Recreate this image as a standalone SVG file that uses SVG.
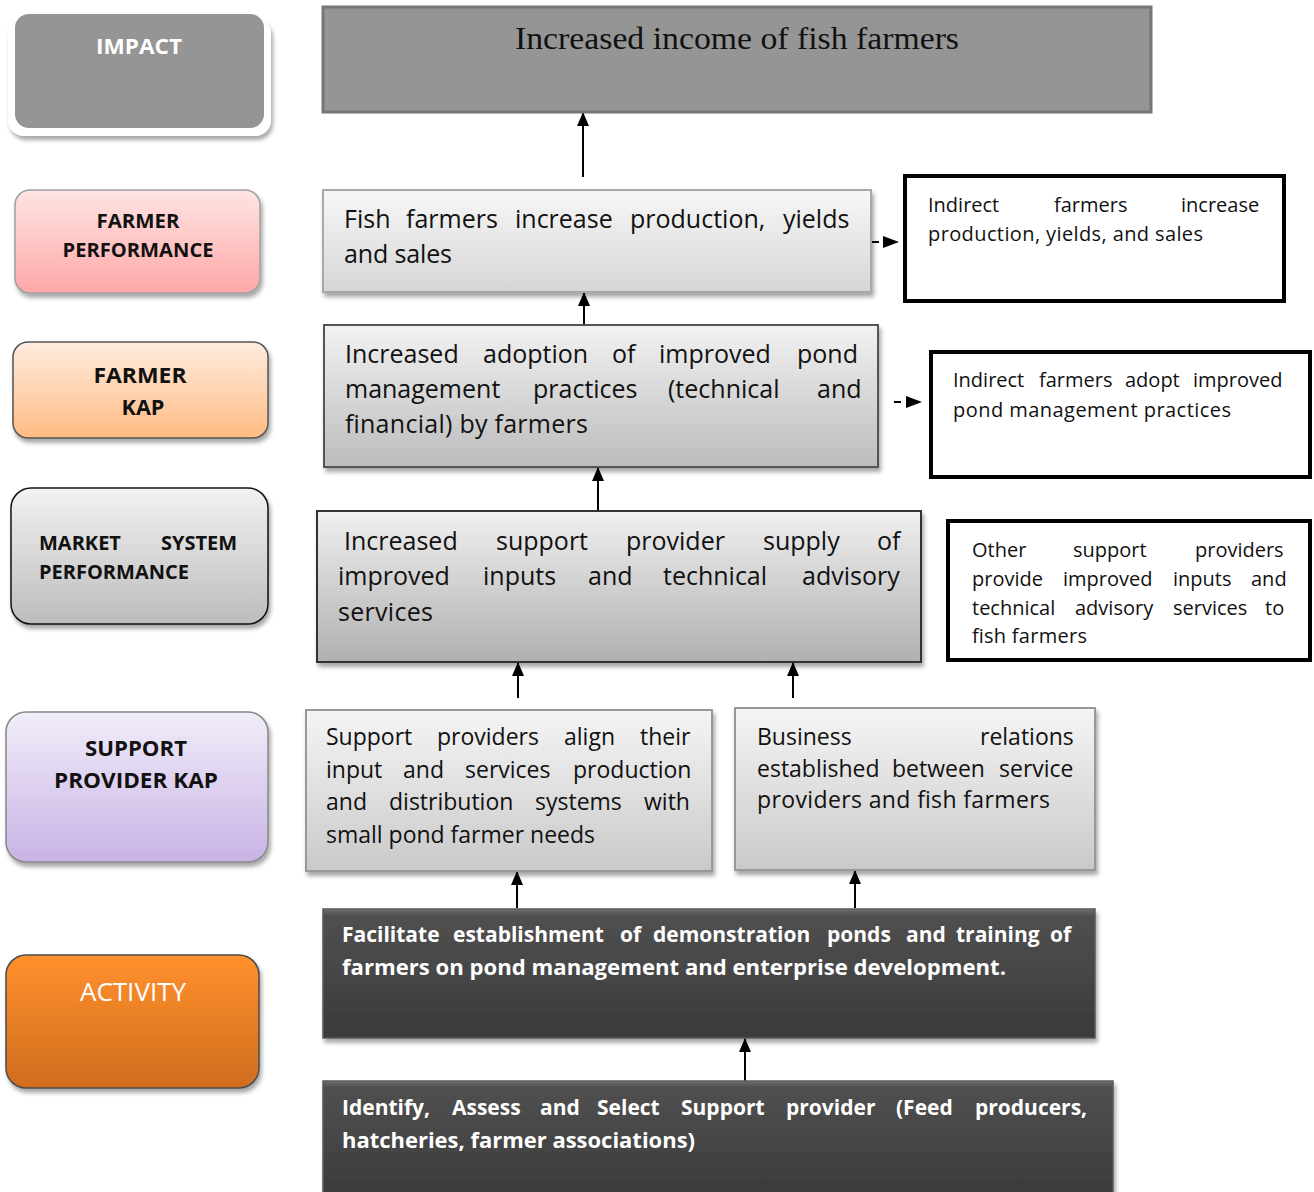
<svg xmlns="http://www.w3.org/2000/svg" width="1314" height="1192" viewBox="0 0 1314 1192">
<style>
.t{font-family:'Open Sans','Noto Sans',sans-serif;fill:#111}
.m{font-size:25px}
.s{font-size:23px}
.r{font-size:20px}
.a{font-size:21px;font-weight:bold;fill:#fff}
.lb{font-family:'Open Sans','Noto Sans',sans-serif;font-weight:bold;fill:#111;text-anchor:middle}
.ind{fill:#fff;stroke:#000;stroke-width:4}
.cn{stroke:#000;stroke-width:2;fill:none}
</style>
<defs>
<filter id="sh" x="-10%" y="-10%" width="130%" height="140%">
<feDropShadow dx="2" dy="4" stdDeviation="2" flood-color="#000" flood-opacity="0.35"/>
</filter>
<linearGradient id="gPink" x1="0" y1="0" x2="0" y2="1"><stop offset="0" stop-color="#ffe4e4"/><stop offset="1" stop-color="#ffa7a7"/></linearGradient>
<linearGradient id="gPeach" x1="0" y1="0" x2="0" y2="1"><stop offset="0" stop-color="#ffecdf"/><stop offset="1" stop-color="#ffbb82"/></linearGradient>
<linearGradient id="gGray" x1="0" y1="0" x2="0" y2="1"><stop offset="0" stop-color="#f2f2f2"/><stop offset="1" stop-color="#bcbcbc"/></linearGradient>
<linearGradient id="gLav" x1="0" y1="0" x2="0" y2="1"><stop offset="0" stop-color="#f1edf9"/><stop offset="1" stop-color="#c8b3e5"/></linearGradient>
<linearGradient id="gOr" x1="0" y1="0" x2="0" y2="1"><stop offset="0" stop-color="#ff912d"/><stop offset="1" stop-color="#d06c1f"/></linearGradient>
<linearGradient id="gB1" x1="0" y1="0" x2="0" y2="1"><stop offset="0" stop-color="#f7f7f7"/><stop offset="1" stop-color="#d6d6d6"/></linearGradient>
<linearGradient id="gB2" x1="0" y1="0" x2="0" y2="1"><stop offset="0" stop-color="#f2f2f2"/><stop offset="1" stop-color="#bcbcbc"/></linearGradient>
<linearGradient id="gB3" x1="0" y1="0" x2="0" y2="1"><stop offset="0" stop-color="#f0f0f0"/><stop offset="1" stop-color="#b0b0b0"/></linearGradient>
<linearGradient id="gB4" x1="0" y1="0" x2="0" y2="1"><stop offset="0" stop-color="#f5f5f5"/><stop offset="1" stop-color="#c9c9c9"/></linearGradient>
<linearGradient id="gDk" x1="0" y1="0" x2="0" y2="1"><stop offset="0" stop-color="#707070"/><stop offset="0.05" stop-color="#505050"/><stop offset="1" stop-color="#3a3a3a"/></linearGradient>
<marker id="ah" markerUnits="userSpaceOnUse" markerWidth="16" markerHeight="14" refX="0" refY="0" orient="auto" overflow="visible">
<path d="M0,0 L-14,-6 L-14,6 Z" fill="#000"/>
</marker>
</defs>

<!-- left level labels -->
<g id="lbl-impact">
<rect x="8" y="18" width="263" height="118" rx="16" fill="#fff" filter="url(#sh)"/>
<rect x="15" y="14" width="249" height="114" rx="14" fill="#959595"/>
<text class="lb" x="139" y="54" font-size="21" style="fill:#fff" textLength="86" lengthAdjust="spacingAndGlyphs">IMPACT</text>
</g>
<g id="lbl-farmer-performance">
<rect x="15" y="190" width="245" height="103" rx="15" fill="url(#gPink)" stroke="#a0a0a0" stroke-width="1.5" filter="url(#sh)"/>
<text class="lb" x="138" y="228" font-size="20" textLength="83" lengthAdjust="spacingAndGlyphs">FARMER</text>
<text class="lb" x="138" y="257" font-size="20" textLength="151" lengthAdjust="spacingAndGlyphs">PERFORMANCE</text>
</g>
<g id="lbl-farmer-kap">
<rect x="13" y="342" width="255" height="96" rx="15" fill="url(#gPeach)" stroke="#555" stroke-width="1.5" filter="url(#sh)"/>
<text class="lb" x="140" y="383" font-size="22" textLength="93" lengthAdjust="spacingAndGlyphs">FARMER</text>
<text class="lb" x="143" y="415" font-size="22" textLength="43" lengthAdjust="spacingAndGlyphs">KAP</text>
</g>
<g id="lbl-market-system">
<rect x="11" y="488" width="257" height="136" rx="20" fill="url(#gGray)" stroke="#111" stroke-width="1.5" filter="url(#sh)"/>
<text class="lb" font-size="20" style="text-anchor:start"><tspan x="39" y="550">MARKET</tspan><tspan x="161" y="550">SYSTEM</tspan><tspan x="39" y="579">PERFORMANCE</tspan></text>
</g>
<g id="lbl-support-kap">
<rect x="6" y="712" width="262" height="150" rx="20" fill="url(#gLav)" stroke="#888" stroke-width="1.5" filter="url(#sh)"/>
<text class="lb" x="136" y="756" font-size="22" textLength="102" lengthAdjust="spacingAndGlyphs">SUPPORT</text>
<text class="lb" x="136" y="788" font-size="22" textLength="164" lengthAdjust="spacingAndGlyphs">PROVIDER KAP</text>
</g>
<g id="lbl-activity">
<rect x="6" y="955" width="253" height="133" rx="20" fill="url(#gOr)" stroke="#4a4a4a" stroke-width="1.5" filter="url(#sh)"/>
<text x="133" y="1001" font-family="'Open Sans','Noto Sans',sans-serif" font-size="25" fill="#fff" text-anchor="middle" textLength="106" lengthAdjust="spacingAndGlyphs">ACTIVITY</text>
</g>

<!-- connectors -->
<g id="connectors">
<line class="cn" x1="583" y1="177" x2="583" y2="112" marker-end="url(#ah)"/>
<line class="cn" x1="584" y1="325" x2="584" y2="292" marker-end="url(#ah)"/>
<line class="cn" x1="598" y1="511" x2="598" y2="467" marker-end="url(#ah)"/>
<line class="cn" x1="518" y1="698" x2="518" y2="662" marker-end="url(#ah)"/>
<line class="cn" x1="793" y1="698" x2="793" y2="662" marker-end="url(#ah)"/>
<line class="cn" x1="517" y1="908" x2="517" y2="871" marker-end="url(#ah)"/>
<line class="cn" x1="855" y1="908" x2="855" y2="870" marker-end="url(#ah)"/>
<line class="cn" x1="745" y1="1081" x2="745" y2="1038" marker-end="url(#ah)"/>
<line class="cn" x1="872" y1="242" x2="879" y2="242"/>
<path d="M883,236 L899,242 L883,248 Z" fill="#000"/>
<line class="cn" x1="894" y1="402" x2="901" y2="402"/>
<path d="M906,396 L922,402 L906,408 Z" fill="#000"/>
</g>

<!-- main chain -->
<g id="impact">
<rect x="323" y="7" width="828" height="105" fill="#959595" stroke="#767676" stroke-width="3"/>
<text x="737" y="49" font-family="'Liberation Serif',serif" font-size="32" fill="#111" text-anchor="middle" textLength="444" lengthAdjust="spacingAndGlyphs">Increased income of fish farmers</text>
</g>

<g id="farmer-performance">
<rect x="323" y="190" width="548" height="102" fill="url(#gB1)" stroke="#a8a8a8" stroke-width="2" filter="url(#sh)"/>
<text class="t m"><tspan x="344" y="228">Fish</tspan><tspan x="406" y="228">farmers</tspan><tspan x="515" y="228">increase</tspan><tspan x="630" y="228">production,</tspan><tspan x="783" y="228">yields</tspan></text>
<text class="t m" x="344" y="263" textLength="108" lengthAdjust="spacing">and sales</text>
</g>

<g id="indirect-production">
<rect class="ind" x="905" y="176" width="379" height="125"/>
<text class="t r"><tspan x="928" y="212">Indirect</tspan><tspan x="1054" y="212">farmers</tspan><tspan x="1181" y="212">increase</tspan></text>
<text class="t r" x="928" y="241" textLength="275" lengthAdjust="spacing">production, yields, and sales</text>
</g>

<g id="farmer-kap">
<rect x="324" y="325" width="554" height="142" fill="url(#gB2)" stroke="#555" stroke-width="2" filter="url(#sh)"/>
<text class="t m"><tspan x="345" y="363">Increased</tspan><tspan x="483" y="363">adoption</tspan><tspan x="612" y="363">of</tspan><tspan x="659" y="363">improved</tspan><tspan x="797" y="363">pond</tspan></text>
<text class="t m"><tspan x="345" y="398">management</tspan><tspan x="533" y="398">practices</tspan><tspan x="668" y="398">(technical</tspan><tspan x="817" y="398">and</tspan></text>
<text class="t m" x="345" y="433" textLength="243" lengthAdjust="spacing">financial) by farmers</text>
</g>

<g id="indirect-adopt">
<rect class="ind" x="931" y="352" width="379" height="125"/>
<text class="t r"><tspan x="953" y="387">Indirect</tspan><tspan x="1039" y="387">farmers</tspan><tspan x="1125" y="387">adopt</tspan><tspan x="1193" y="387">improved</tspan></text>
<text class="t r" x="953" y="417" textLength="278" lengthAdjust="spacing">pond management practices</text>
</g>

<g id="market-system">
<rect x="317" y="511" width="604" height="151" fill="url(#gB3)" stroke="#333" stroke-width="2" filter="url(#sh)"/>
<text class="t m"><tspan x="344" y="550">Increased</tspan><tspan x="496" y="550">support</tspan><tspan x="626" y="550">provider</tspan><tspan x="763" y="550">supply</tspan><tspan x="877" y="550">of</tspan></text>
<text class="t m"><tspan x="338" y="585">improved</tspan><tspan x="483" y="585">inputs</tspan><tspan x="588" y="585">and</tspan><tspan x="663" y="585">technical</tspan><tspan x="802" y="585">advisory</tspan></text>
<text class="t m" x="338" y="621" textLength="95" lengthAdjust="spacing">services</text>
</g>

<g id="other-providers">
<rect class="ind" x="948" y="521" width="362" height="139"/>
<text class="t r"><tspan x="972" y="557">Other</tspan><tspan x="1073" y="557">support</tspan><tspan x="1195" y="557">providers</tspan></text>
<text class="t r"><tspan x="972" y="586">provide</tspan><tspan x="1063" y="586">improved</tspan><tspan x="1173" y="586">inputs</tspan><tspan x="1251" y="586">and</tspan></text>
<text class="t r"><tspan x="972" y="615">technical</tspan><tspan x="1075" y="615">advisory</tspan><tspan x="1173" y="615">services</tspan><tspan x="1265" y="615">to</tspan></text>
<text class="t r" x="972" y="643" textLength="115" lengthAdjust="spacing">fish farmers</text>
</g>

<g id="providers-align">
<rect x="306" y="710" width="406" height="161" fill="url(#gB4)" stroke="#999" stroke-width="2" filter="url(#sh)"/>
<text class="t s"><tspan x="326" y="745">Support</tspan><tspan x="437" y="745">providers</tspan><tspan x="564" y="745">align</tspan><tspan x="640" y="745">their</tspan></text>
<text class="t s"><tspan x="326" y="778">input</tspan><tspan x="403" y="778">and</tspan><tspan x="465" y="778">services</tspan><tspan x="573" y="778">production</tspan></text>
<text class="t s"><tspan x="326" y="810">and</tspan><tspan x="389" y="810">distribution</tspan><tspan x="535" y="810">systems</tspan><tspan x="644" y="810">with</tspan></text>
<text class="t s" x="326" y="843" textLength="269" lengthAdjust="spacing">small pond farmer needs</text>
</g>

<g id="business-relations">
<rect x="735" y="708" width="360" height="162" fill="url(#gB4)" stroke="#999" stroke-width="2" filter="url(#sh)"/>
<text class="t s"><tspan x="757" y="745">Business</tspan><tspan x="980" y="745">relations</tspan></text>
<text class="t s"><tspan x="757" y="777">established</tspan><tspan x="892" y="777">between</tspan><tspan x="999" y="777">service</tspan></text>
<text class="t s" x="757" y="808" textLength="293" lengthAdjust="spacing">providers and fish farmers</text>
</g>

<g id="activity-demo">
<rect x="323" y="909" width="772" height="129" fill="url(#gDk)" stroke="#5a5a5a" stroke-width="1.5" filter="url(#sh)"/>
<text class="t a"><tspan x="342" y="942">Facilitate</tspan><tspan x="453" y="942">establishment</tspan><tspan x="620" y="942">of</tspan><tspan x="653" y="942">demonstration</tspan><tspan x="827" y="942">ponds</tspan><tspan x="906" y="942">and</tspan><tspan x="956" y="942">training</tspan><tspan x="1050" y="942">of</tspan></text>
<text class="t a" x="342" y="975" textLength="664" lengthAdjust="spacingAndGlyphs">farmers on pond management and enterprise development.</text>
</g>

<g id="activity-identify">
<rect x="323" y="1081" width="790" height="120" fill="url(#gDk)" stroke="#5a5a5a" stroke-width="1.5" filter="url(#sh)"/>
<text class="t a"><tspan x="342" y="1115">Identify,</tspan><tspan x="452" y="1115">Assess</tspan><tspan x="540" y="1115">and</tspan><tspan x="597" y="1115">Select</tspan><tspan x="681" y="1115">Support</tspan><tspan x="786" y="1115">provider</tspan><tspan x="896" y="1115">(Feed</tspan><tspan x="975" y="1115">producers,</tspan></text>
<text class="t a" x="342" y="1148" textLength="353" lengthAdjust="spacingAndGlyphs">hatcheries, farmer associations)</text>
</g>
</svg>
